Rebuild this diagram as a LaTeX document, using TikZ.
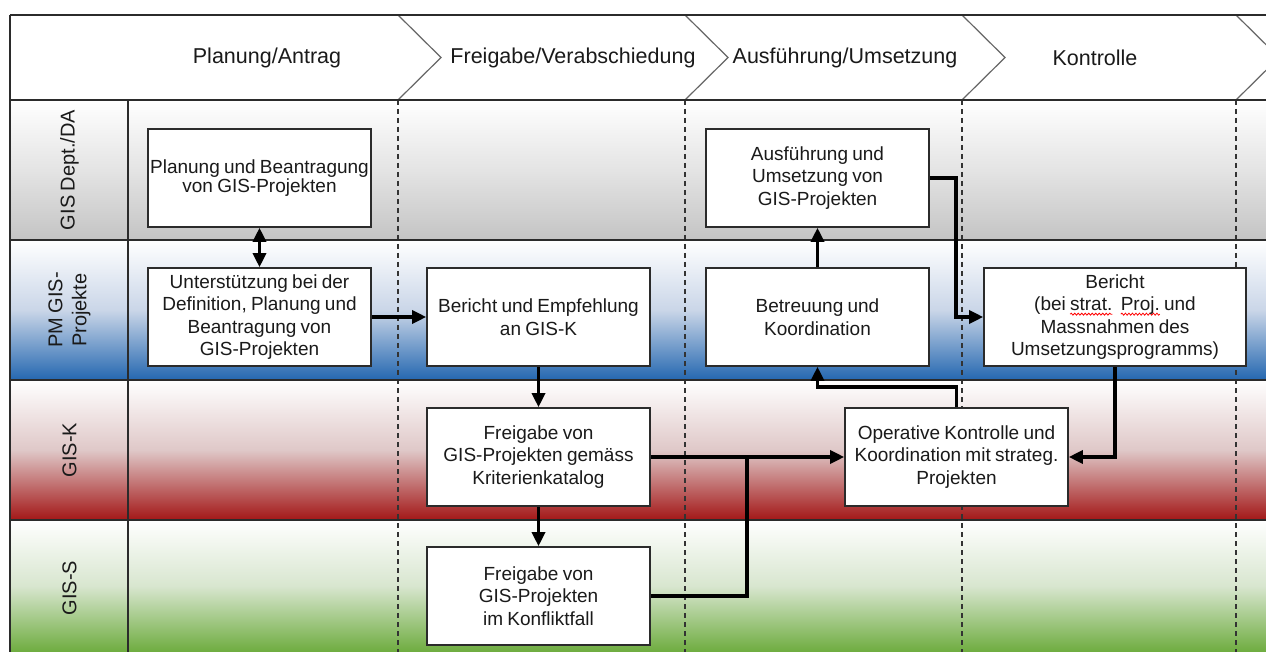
\documentclass[tikz,border=0pt]{standalone}
\usepackage{fontspec}
\setmainfont{Liberation Sans}[WordSpace=0.8]
\usetikzlibrary{arrows.meta,decorations.pathmorphing,calc}
\definecolor{txt}{HTML}{1A1A1A}
\definecolor{lgray}{HTML}{C4C4C4}
\definecolor{lgraym}{HTML}{E4E4E4}
\definecolor{lblue}{HTML}{2467B0}
\definecolor{lbluem}{HTML}{CAD6E8}
\definecolor{lred}{HTML}{A31717}
\definecolor{lredm}{HTML}{DFC8C8}
\definecolor{lgreen}{HTML}{6EAC3F}
\definecolor{lgreenm}{HTML}{D8E6CF}
\definecolor{border}{HTML}{2B2B2B}
\tikzset{
  box/.style={draw=border, line width=1.6pt, fill=white, minimum width=223pt,
    minimum height=98pt, inner sep=1pt, align=center,
    font=\fontsize{19}{22.5}\selectfont, text=txt},
  flow/.style={line width=3.3pt, draw=black, -{Triangle[length=14pt,width=13pt]}},
  dflow/.style={line width=3.3pt, draw=black,
    {Triangle[length=14pt,width=13pt]}-{Triangle[length=14pt,width=13pt]}},
  link/.style={line width=3.3pt, draw=black},
  lanelabel/.style={rotate=90, align=center, font=\fontsize{20}{24}\selectfont, text=txt},
  phase/.style={font=\fontsize{21.5}{24}\selectfont, text=txt},
  chev/.style={draw=black!60, line width=1.2pt},
  sep/.style={draw=border, line width=1.5pt},
  phasesep/.style={draw=black!80, line width=1.3pt, dash pattern=on 5pt off 4pt},
  squigline/.style={draw=red, line width=0.8pt, decorate,
    decoration={snake, amplitude=1pt, segment length=3.5pt}}
}
\newcommand\squig[1]{\setbox0\hbox{#1}\rlap{\tikz[overlay]\draw[squigline] (0pt,-3.5pt) -- (\wd0,-3.5pt);}\box0\relax}
\begin{document}
\begin{tikzpicture}[x=1pt,y=-1pt]
\useasboundingbox (0,0) rectangle (1266,652);
% lanes
\shade[top color=white, bottom color=lgray, middle color=lgraym] (10,100) rectangle (1266,240);
\shade[top color=white, bottom color=lblue, middle color=lbluem] (10,240) rectangle (1266,380);
\shade[top color=white, bottom color=lred, middle color=lredm] (10,380) rectangle (1266,520);
\shade[top color=white, bottom color=lgreen, middle color=lgreenm] (10,520) rectangle (1266,652);
% header
\fill[white] (10,15) rectangle (1266,100);
\foreach \x in {398,685,962,1236} {
  \draw[chev] (\x,15) -- (\x+43,57.5) -- (\x,100);
  \draw[phasesep] (\x,100) -- (\x,652);
}
\draw[sep] (10,15) -- (1266,15);
\draw[sep] (10,100) -- (1266,100);
\draw[sep] (10,240) -- (1266,240);
\draw[sep] (10,380) -- (1266,380);
\draw[sep] (10,520) -- (1266,520);
\draw[sep] (10,15) -- (10,652);
\draw[sep] (128,100) -- (128,652);
\node[phase] (p1) at (267,58) {Planung/Antrag};
\node[phase] (p2) at (573,58) {Freigabe/Verabschiedung};
\node[phase] (p3) at (845,58) {Ausführung/Umsetzung};
\node[phase] (p4) at (1095,58) {Kontrolle};
% lane labels
\node[lanelabel] (l1) at (69.5,170) {GIS Dept./DA};
\node[lanelabel] (l2) at (69.5,310) {PM GIS-\\Projekte};
\node[lanelabel] (l3) at (69.5,450) {GIS-K};
\node[lanelabel] (l4) at (69.5,588) {GIS-S};
% boxes
\node[box, font=\fontsize{19}{18.5}\selectfont] (A) at (259.5,178) {Planung und Beantragung\\von GIS-Projekten};
\node[box] (B) at (259.5,317) {Unterstützung bei der\\Definition, Planung und\\Beantragung von\\GIS-Projekten};
\node[box] (C) at (538.5,317) {Bericht und Empfehlung\\an GIS-K};
\node[box] (D) at (538.5,457) {Freigabe von\\GIS-Projekten gemäss\\Kriterienkatalog};
\node[box] (E) at (538.5,596) {Freigabe von\\GIS-Projekten\\im Konfliktfall};
\node[box] (F) at (956.5,457) {Operative Kontrolle und\\Koordination mit strateg.\\Projekten};
\node[box] (G) at (817.5,178) {Ausführung und\\Umsetzung von\\GIS-Projekten};
\node[box] (H) at (817.5,317) {Betreuung und\\Koordination};
\node[box, minimum width=262pt] (I) at (1115,317) {Bericht\\(bei \squig{strat.}\ \ \squig{Proj.} und\\Massnahmen des\\Umsetzungsprogramms)};
% connectors
\coordinate (j) at (747,457);
\coordinate (g1) at (956,178);
\coordinate (k) at (0,387);
\draw[dflow] (A) -- (B);
\draw[flow] (B) -- (C);
\draw[flow] (C) -- (D);
\draw[flow] (D) -- (E);
\draw[flow] (D) -- (F);
\draw[link] (E.east) -| (j);
\draw[flow] (H) -- (G);
\draw[flow] (G.east) -- (g1) |- (I.west);
\draw[flow] (I.south) |- (F.east);
\draw[flow] (F.north) -- (F.north |- k) -| (H.south);
\end{tikzpicture}
\end{document}
